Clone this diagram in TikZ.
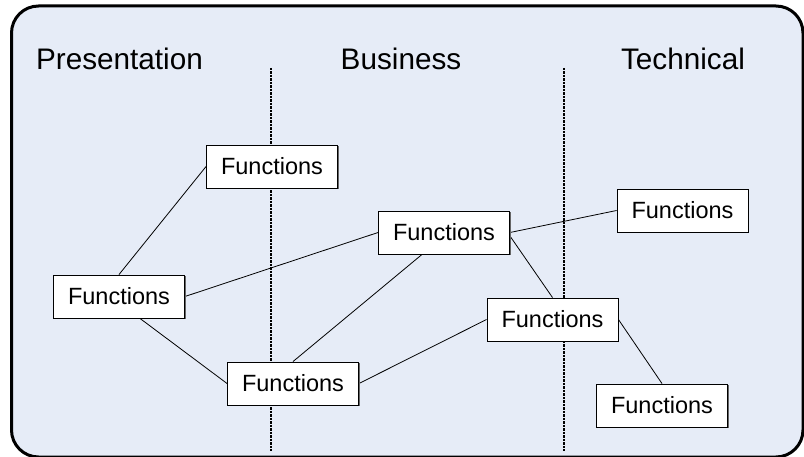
\documentclass[tikz,border=0pt]{standalone}
\usepackage{fontspec}
\setmainfont{Liberation Sans}
\usetikzlibrary{shadows}
\pgfdeclarelayer{back}
\pgfdeclarelayer{lines}
\pgfsetlayers{back,lines,main}
\definecolor{panelblue}{RGB}{230,236,247}
\tikzset{
  fnbox/.style={draw=black, line width=0.9pt, fill=white,
    minimum width=131pt, minimum height=43pt, inner sep=0pt,
    font=\fontsize{23.5pt}{26pt}\selectfont,
    drop shadow={shadow xshift=1.3pt, shadow yshift=-1.3pt, fill=black!60, opacity=1}},
  header/.style={anchor=base, font=\fontsize{29.7pt}{33pt}\selectfont},
  link/.style={draw=black, line width=0.8pt},
  divider/.style={draw=black, line width=2pt, dash pattern=on 2.2pt off 1.3pt}
}
\begin{document}
\begin{tikzpicture}[x=1pt, y=-1pt]
\useasboundingbox (0,0) rectangle (804,457);

% panel and column dividers
\begin{pgfonlayer}{back}
  \draw[line width=3pt, fill=panelblue, rounded corners=27pt] (11.5,6) rectangle (803,457);
  \draw[divider] (271,68) -- (271,451);
  \draw[divider] (564,68) -- (564,451);
\end{pgfonlayer}

% column headings
\node[header] (hpres) at (119.5,70) {Presentation};
\node[header] (hbus)  at (401,70)   {Business};
\node[header] (htech) at (683,70)   {Technical};

% function boxes
\node[fnbox] (n1) at (272,166.5)   {Functions};
\node[fnbox] (n2) at (119,296.5)   {Functions};
\node[fnbox] (n3) at (293,383.5)   {Functions};
\node[fnbox] (n4) at (444,232.5)   {Functions};
\node[fnbox] (n5) at (682.5,210.5) {Functions};
\node[fnbox] (n6) at (552.5,319.5) {Functions};
\node[fnbox] (n7) at (662,405.5)   {Functions};

% links
\begin{pgfonlayer}{lines}
  \draw[link] (n2.north) -- (n1.west);
  \draw[link] (n2.east) -- (n4.west);
  \draw[link] ([xshift=21pt]n2.south) -- (n3.west);
  \draw[link] (n3.north) -- ([xshift=-22pt]n4.south);
  \draw[link] (n3.east) -- (n6.west);
  \draw[link] (n4.east) -- (n5.west);
  \draw[link] ([yshift=-3.5pt]n4.east) -- (n6.north);
  \draw[link] (n6.east) -- (n7.north);
\end{pgfonlayer}
\end{tikzpicture}
\end{document}
